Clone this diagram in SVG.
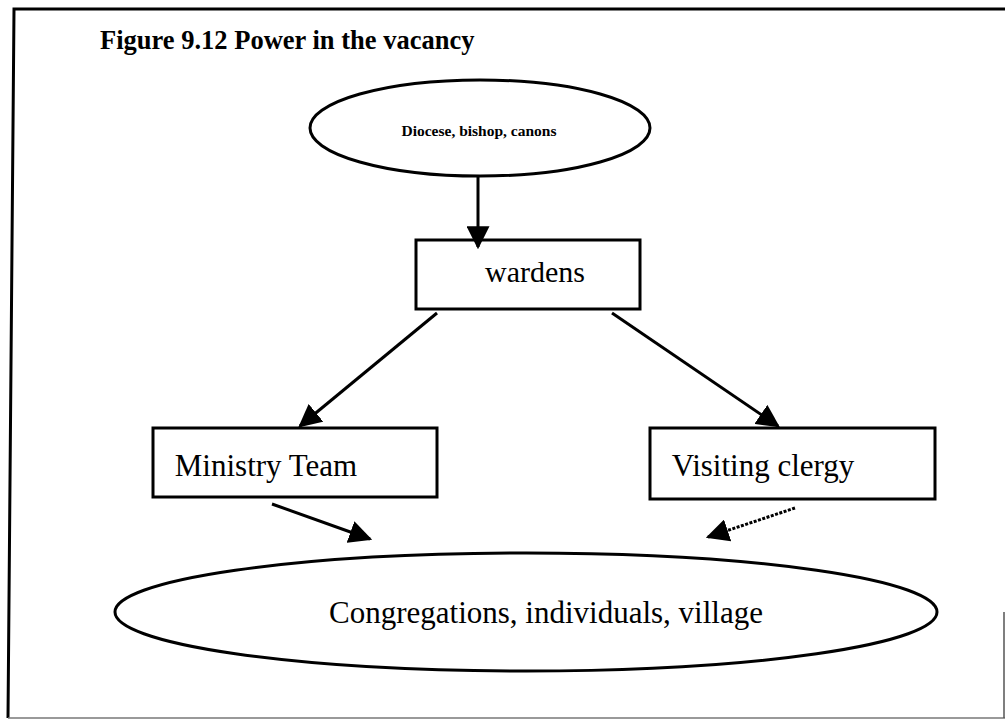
<svg xmlns="http://www.w3.org/2000/svg" width="1005" height="719" viewBox="0 0 1005 719">
  <style>
    .shape { fill: #ffffff; stroke: #000000; stroke-width: 3; }
    .label { font-family: "Liberation Serif", "Times New Roman", serif; fill: #000000; text-anchor: middle; }
    .edge { stroke: #000000; stroke-width: 3; fill: none; }
  </style>
  <defs>
    <marker id="headLarge" viewBox="0 0 10 10" refX="9" refY="5" markerWidth="23" markerHeight="23" markerUnits="userSpaceOnUse" orient="auto">
      <path d="M0,0 L10,5 L0,10 z" fill="#000000"/>
    </marker>
  </defs>

  <rect width="1005" height="719" fill="#ffffff"/>

  <!-- outer frame -->
  <g id="frame">
    <path d="M1005,9 L14,9 L8,718" fill="none" stroke="#000000" stroke-width="3"/>
    <path d="M8,718 L1005,718" fill="none" stroke="#777777" stroke-width="1.5"/>
    <path d="M1004,612 L1004,718" fill="none" stroke="#555555" stroke-width="1.5"/>
  </g>

  <text id="title" x="100" y="49" font-family="Liberation Serif, Times New Roman, serif" font-weight="bold" font-size="26.5">Figure 9.12 Power in the vacancy</text>

  <g id="diocese">
    <ellipse class="shape" cx="480" cy="128" rx="170" ry="48"/>
    <text class="label" x="479" y="136" font-size="15.5" font-weight="bold">Diocese, bishop, canons</text>
  </g>

  <g id="wardens">
    <rect class="shape" x="416" y="240" width="224" height="69"/>
    <text class="label" x="535" y="282" font-size="30">wardens</text>
  </g>

  <g id="ministry-team">
    <rect class="shape" x="153" y="428" width="284" height="69"/>
    <text class="label" x="266" y="476" font-size="31">Ministry Team</text>
  </g>

  <g id="visiting-clergy">
    <rect class="shape" x="650" y="428" width="285" height="71"/>
    <text class="label" x="763" y="476" font-size="31">Visiting clergy</text>
  </g>

  <g id="congregations">
    <ellipse class="shape" cx="526" cy="612" rx="411" ry="59"/>
    <text class="label" x="546" y="623" font-size="31">Congregations, individuals, village</text>
  </g>

  <g id="connectors">
    <line class="edge" x1="478" y1="176" x2="478" y2="247" stroke-width="2" marker-end="url(#headLarge)"/>
    <line class="edge" x1="437" y1="313" x2="300" y2="426" marker-end="url(#headLarge)"/>
    <line class="edge" x1="612" y1="313" x2="778" y2="426" marker-end="url(#headLarge)"/>
    <line class="edge" x1="272" y1="504" x2="370" y2="539" marker-end="url(#headLarge)"/>
    <line class="edge" x1="795" y1="508" x2="708" y2="537" stroke-dasharray="3,1.5" stroke-width="2.5" marker-end="url(#headLarge)"/>
  </g>
</svg>
